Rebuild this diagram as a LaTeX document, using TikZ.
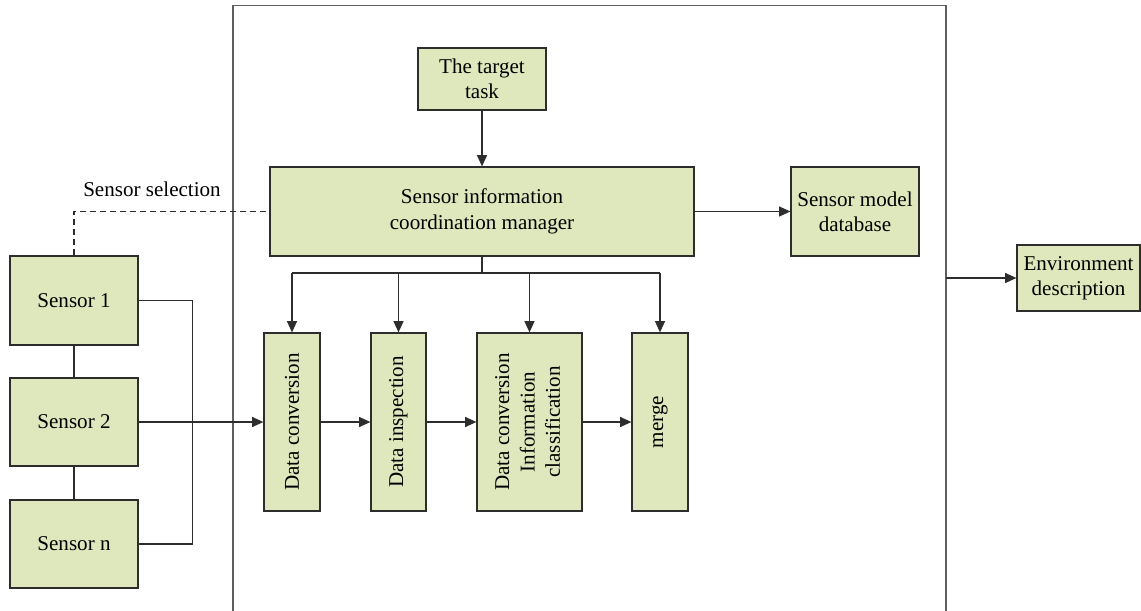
\documentclass[tikz,border=0pt]{standalone}
\usepackage{fontspec}
\setmainfont{Liberation Serif}
\usetikzlibrary{arrows.meta,positioning}
\definecolor{boxfill}{RGB}{222,232,188}
\definecolor{boxline}{RGB}{45,45,45}
\definecolor{framegray}{RGB}{95,95,95}
\tikzset{
  blockbox/.style={draw=boxline, fill=boxfill, line width=0.9pt, inner sep=1pt,
    align=center, font=\fontsize{15.8}{19}\selectfont},
  link/.style={draw=boxline, line width=1pt},
  flow/.style={link, -{Triangle[length=8.5pt,width=7.5pt]}},
}

\begin{document}
\begin{tikzpicture}[x=0.75pt,y=0.75pt,yscale=-1,xscale=1]
\useasboundingbox (0,0) rectangle (1141,610);

%Outer frame
\draw [framegray, line width=1.2pt] (233,625) -- (233,5.5) -- (946,5.5) -- (946,625);

%Top blocks
\node [blockbox, minimum width=96pt, minimum height=46.5pt] (task) at (482,79) {The target\\task};
\node [blockbox, minimum width=318pt, minimum height=66.75pt] (manager) at (482,211.5) {Sensor information\\coordination manager};
\node [blockbox, minimum width=96pt, minimum height=66.75pt] (database) at (855,211.5) {Sensor model\\database};
\node [blockbox, minimum width=92.25pt, minimum height=49.5pt] (env) at (1078.5,278) {Environment\\description};

%Sensors
\node [blockbox, minimum width=96pt, minimum height=66.75pt] (s1) at (74,300.5) {Sensor 1};
\node [blockbox, minimum width=96pt, minimum height=66pt] (s2) at (74,422) {Sensor 2};
\node [blockbox, minimum width=96pt, minimum height=66pt] (sn) at (74,544) {Sensor n};

%Processing chain
\node [blockbox, minimum width=42pt, minimum height=133.5pt] (conv) at (292,422) {\rotatebox{90}{Data conversion}};
\node [blockbox, minimum width=41.25pt, minimum height=133.5pt] (insp) at (398.5,422) {\rotatebox{90}{Data inspection}};
\node [blockbox, minimum width=78.75pt, minimum height=133.5pt] (cls) at (529.5,422) {\rotatebox{90}{\begin{tabular}{@{}c@{}}Data conversion\\Information\\classification\end{tabular}}};
\node [blockbox, minimum width=42pt, minimum height=133.5pt] (merge) at (660,422) {\rotatebox{90}{merge}};

% Text Node
\node [font=\fontsize{15.8}{19}\selectfont, inner sep=0.75pt] (sel) at (152,189) {Sensor selection};

%Connectors
\coordinate (bus) at (482,273);
\coordinate (frameE) at (946,278);
\draw [flow] (task) -- (manager);
\draw [flow] (manager) -- (database);
\draw [flow] (frameE) -- (env.west);
\draw [link] (manager.south) -- (bus);
\draw [link] (conv.north |- bus) -- (merge.north |- bus);
\foreach \blk in {conv,insp,cls,merge}
  \draw [flow] (\blk.north |- bus) -- (\blk.north);
\draw [flow] (conv) -- (insp);
\draw [flow] (insp) -- (cls);
\draw [flow] (cls) -- (merge);

\draw [link] (s1) -- (s2);
\draw [link] (s2) -- (sn);
\draw [link] (s1.east) -- ++(54,0) |- (sn.east);
\draw [flow] (s2.east) -- (conv.west);
\draw [link, dash pattern={on 4.5pt off 3pt}] (s1.north) |- (manager.west);

\end{tikzpicture}
\end{document}
